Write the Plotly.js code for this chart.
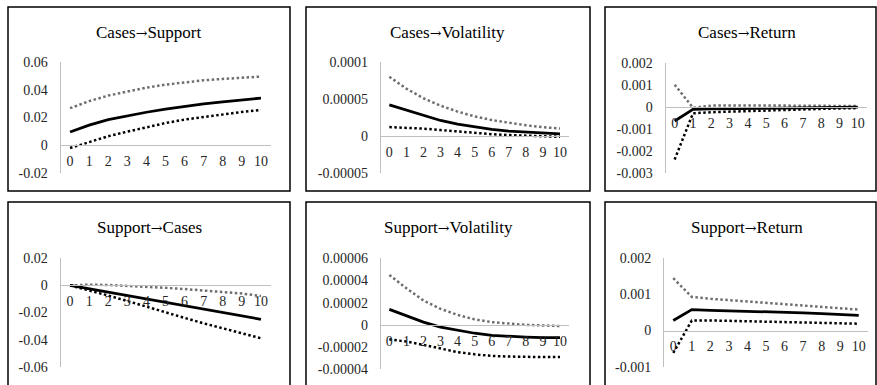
<!DOCTYPE html>
<html>
<head>
<meta charset="utf-8">
<script src="https://cdn.plot.ly/plotly-3.0.1.min.js"></script>
<style>html,body{margin:0;padding:0;background:#fff;}#chart{width:877px;height:385px;}</style>
</head>
<body>
<div id="chart"></div>
<script>
// ---- data ----
const horizon = ["0","1","2","3","4","5","6","7","8","9","10"];

const titles = [["Cases","Support"],["Cases","Volatility"],["Cases","Return"],
                ["Support","Cases"],["Support","Volatility"],["Support","Return"]];

const csIrf   = [0.0095,0.0145,0.0185,0.0212,0.0238,0.026,0.028,0.0298,0.0313,0.0327,0.034];
const csUpper = [0.0267,0.0318,0.0358,0.0388,0.0415,0.0437,0.0455,0.0468,0.0478,0.0487,0.0495];
const csLower = [-0.002,0.0025,0.0065,0.0098,0.013,0.016,0.0185,0.0205,0.0225,0.024,0.0255];

const cvIrf   = [4.2e-5,3.5e-5,2.75e-5,2.1e-5,1.6e-5,1.2e-5,9e-6,6.5e-6,5e-6,3.8e-6,2.8e-6];
const cvUpper = [8.0e-5,6.4e-5,5.1e-5,4.1e-5,3.3e-5,2.65e-5,2.15e-5,1.75e-5,1.45e-5,1.2e-5,1.0e-5];
const cvLower = [1.2e-5,1.15e-5,1.0e-5,8e-6,6e-6,4e-6,2.5e-6,1.2e-6,2e-7,-5e-7,-1.0e-6];

const crIrf   = [-0.00065,-0.00012,-0.0001,-0.00009,-0.00008,-0.00007,-0.00006,-0.00005,-0.00004,-0.00003,-0.00002];
const crUpper = [0.001,-0.00005,0.00005,0.00006,0.00006,0.00006,0.00005,0.00005,0.00004,0.00004,0.00003];
const crLower = [-0.0024,-0.0003,-0.00025,-0.00022,-0.0002,-0.00018,-0.00015,-0.00013,-0.0001,-0.00008,-0.00006];

const scIrf   = [0,-0.0025,-0.005,-0.0075,-0.010,-0.0128,-0.0155,-0.018,-0.0205,-0.023,-0.025];
const scUpper = [0,0.0005,0.0003,-0.0003,-0.001,-0.0018,-0.0027,-0.0037,-0.0048,-0.006,-0.0078];
const scLower = [0,-0.0035,-0.0075,-0.0115,-0.0158,-0.02,-0.024,-0.028,-0.0318,-0.0355,-0.039];

const svIrf   = [1.4e-5,8e-6,2.5e-6,-2e-6,-5e-6,-7.5e-6,-9.5e-6,-1.05e-5,-1.1e-5,-1.15e-5,-1.15e-5];
const svUpper = [4.5e-5,3.3e-5,2.2e-5,1.45e-5,9e-6,5e-6,2.5e-6,1e-6,0,-5e-7,-1e-6];
const svLower = [-1.3e-5,-1.5e-5,-1.8e-5,-2.15e-5,-2.45e-5,-2.65e-5,-2.8e-5,-2.85e-5,-2.9e-5,-2.9e-5,-2.9e-5];

const srIrf   = [0.00028,0.00058,0.00056,0.00055,0.00053,0.00052,0.0005,0.00049,0.00047,0.00045,0.00042];
const srUpper = [0.00145,0.00093,0.00088,0.00084,0.00081,0.00077,0.00073,0.0007,0.00066,0.00062,0.00058];
const srLower = [-0.00062,0.00028,0.00028,0.00027,0.00026,0.00025,0.00024,0.00023,0.00022,0.0002,0.00019];

const yTickVals = [
  [-0.02,0,0.02,0.04,0.06],
  [-0.00005,0,0.00005,0.0001],
  [-0.003,-0.002,-0.001,0,0.001,0.002],
  [-0.06,-0.04,-0.02,0,0.02],
  [-0.00004,-0.00002,0,0.00002,0.00004,0.00006],
  [-0.001,0,0.001,0.002]
];
const yTickText = [
  ["-0.02","0","0.02","0.04","0.06"],
  ["-0.00005","0","0.00005","0.0001"],
  ["-0.003","-0.002","-0.001","0","0.001","0.002"],
  ["-0.06","-0.04","-0.02","0","0.02"],
  ["-0.00004","-0.00002","0","0.00002","0.00004","0.00006"],
  ["-0.001","0","0.001","0.002"]
];

const series = [
  [csIrf,csUpper,csLower],
  [cvIrf,cvUpper,cvLower],
  [crIrf,crUpper,crLower],
  [scIrf,scUpper,scLower],
  [svIrf,svUpper,svLower],
  [srIrf,srUpper,srLower]
];

// ---- layout geometry (pixels) ----
const W = 877, H = 385;
const px = v => v / W;
const py = v => 1 - v / H;

const panels = [
  {x0:60.5, x1:270.5, top:62,    bot:173,   tx:149,   ty:32},
  {x0:380.8,x1:568.5, top:62,    bot:173,   tx:447.5, ty:32},
  {x0:665.5,x1:867,   top:62.7,  bot:172.7, tx:747,   ty:32},
  {x0:60.5, x1:270.5, top:258.3, bot:366.7, tx:149,   ty:227},
  {x0:380.8,x1:568.5, top:258.3, bot:369.3, tx:448,   ty:227},
  {x0:664,  x1:868,   top:258.3, bot:366.7, tx:747,   ty:227}
];
const boxes = [
  [8,7,290,191],[306,7,590,191],[605,7,876,191],
  [8,202,290,392],[306,202,590,392],[605,202,876,392]
];

const FONT = "Liberation Serif";
const layout = {
  width: W, height: H,
  margin: {l:0,r:0,t:0,b:0},
  paper_bgcolor: "#fff",
  plot_bgcolor: "rgba(0,0,0,0)",
  showlegend: false,
  font: {family: FONT, color: "#262626", size: 14},
  shapes: [],
  annotations: []
};
const traces = [];

panels.forEach((p, i) => {
  const n = i + 1;
  const xa = n === 1 ? "xaxis" : "xaxis" + n;
  const ya = n === 1 ? "yaxis" : "yaxis" + n;
  const xr = n === 1 ? "x" : "x" + n;
  const yr = n === 1 ? "y" : "y" + n;
  const tv = yTickVals[i];
  const ymin = tv[0], ymax = tv[tv.length - 1];
  const d0 = py(p.bot), d1 = py(p.top);
  const zeroPos = d0 + (0 - ymin) / (ymax - ymin) * (d1 - d0);

  layout[xa] = {
    domain: [px(p.x0), px(p.x1)],
    anchor: "free", position: zeroPos,
    type: "category", categoryorder: "array", categoryarray: horizon,
    range: [-0.5, 10.5],
    showline: true, linecolor: "#bfbfbf", linewidth: 1,
    showgrid: false, zeroline: false, ticks: "",
    ticklabelstandoff: 3,
    tickfont: {family: FONT, size: 14, color: "#262626"},
    fixedrange: true
  };
  layout[ya] = {
    domain: [d0, d1],
    anchor: xr,
    range: [ymin, ymax],
    tickvals: tv, ticktext: yTickText[i],
    showline: true, linecolor: "#bfbfbf", linewidth: 1,
    showgrid: false, zeroline: false, ticks: "",
    ticklabelstandoff: 9,
    tickfont: {family: FONT, size: 14, color: "#262626"},
    fixedrange: true
  };

  const [irf, up, lo] = series[i];
  traces.push({x: horizon, y: up, xaxis: xr, yaxis: yr, mode: "lines",
    line: {color: "#6e6e6e", width: 2.5, dash: "2.5px,2.5px"}, hoverinfo: "skip"});
  traces.push({x: horizon, y: lo, xaxis: xr, yaxis: yr, mode: "lines",
    line: {color: "#000", width: 2.5, dash: "2.5px,2.5px"}, hoverinfo: "skip"});
  traces.push({x: horizon, y: irf, xaxis: xr, yaxis: yr, mode: "lines",
    line: {color: "#000", width: 2.75}, hoverinfo: "skip"});

  const t = titles[i];
  layout.annotations.push({
    text: t[0] + "<span style=\"font-family:'DejaVu Serif';font-size:14px\">\u2192</span>" + t[1],
    xref: "paper", yref: "paper",
    x: px(p.tx), y: py(p.ty), xanchor: "center", yanchor: "middle",
    showarrow: false, font: {family: FONT, size: 17, color: "#000"}
  });
  const b = boxes[i];
  layout.shapes.push({type: "rect", xref: "paper", yref: "paper",
    x0: px(b[0]), x1: px(b[2]), y0: py(b[3]), y1: py(b[1]),
    line: {color: "#000", width: 1.5}, fillcolor: "rgba(0,0,0,0)", layer: "below"});
});

Plotly.newPlot("chart", traces, layout, {staticPlot: true, displayModeBar: false});
</script>
</body>
</html>
